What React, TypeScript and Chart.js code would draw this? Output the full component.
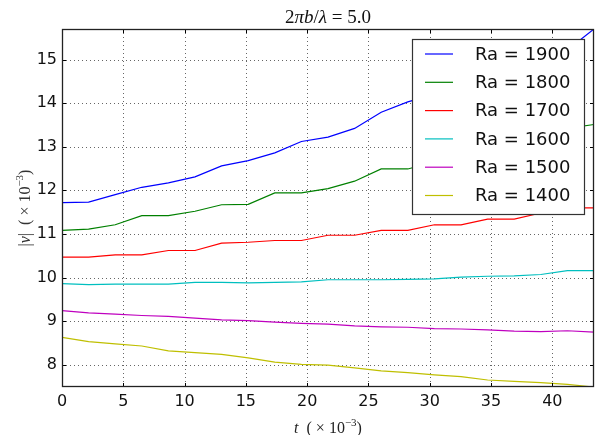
import React, { useEffect, useRef } from 'react';
import { Chart, registerables } from 'chart.js';

Chart.register(...registerables);

// time samples t (×10^-3)
const tValues = [0, 2.17, 4.34, 6.51, 8.68, 10.85, 13.02, 15.19, 17.36, 19.53, 21.7, 23.87, 26.04, 28.21, 30.38, 32.55, 34.72, 36.89, 39.06, 41.23, 43.4];

// |v| (×10^-3) per Rayleigh number
const ra1900 = [11.72, 11.73, 11.9, 12.07, 12.17, 12.31, 12.56, 12.68, 12.86, 13.12, 13.22, 13.42, 13.79, 14.03, 14.2, 14.4, 14.6, 14.8, 15.0, 15.22, 15.7];
const ra1800 = [11.08, 11.11, 11.21, 11.42, 11.42, 11.52, 11.67, 11.68, 11.94, 11.94, 12.04, 12.21, 12.49, 12.49, 12.65, 12.8, 12.95, 13.1, 13.25, 13.42, 13.51];
const ra1700 = [10.47, 10.47, 10.52, 10.52, 10.62, 10.62, 10.79, 10.81, 10.85, 10.85, 10.97, 10.97, 11.08, 11.08, 11.21, 11.21, 11.34, 11.34, 11.48, 11.6, 11.6];
const ra1600 = [9.86, 9.84, 9.85, 9.85, 9.85, 9.89, 9.89, 9.88, 9.89, 9.9, 9.95, 9.95, 9.95, 9.96, 9.97, 10.01, 10.03, 10.04, 10.07, 10.16, 10.16];
const ra1500 = [9.24, 9.19, 9.16, 9.13, 9.11, 9.07, 9.03, 9.01, 8.98, 8.95, 8.93, 8.89, 8.87, 8.86, 8.83, 8.82, 8.8, 8.77, 8.76, 8.78, 8.75];
const ra1400 = [8.63, 8.53, 8.48, 8.43, 8.32, 8.28, 8.24, 8.16, 8.06, 8.01, 7.99, 7.93, 7.86, 7.82, 7.77, 7.73, 7.65, 7.62, 7.59, 7.55, 7.49];

const seriesValues = [ra1900, ra1800, ra1700, ra1600, ra1500, ra1400];
const seriesLabels = ['Ra = 1900', 'Ra = 1800', 'Ra = 1700', 'Ra = 1600', 'Ra = 1500', 'Ra = 1400'];
const seriesColors = ['#0000ff', '#008000', '#ff0000', '#00bfbf', '#bf00bf', '#bfbf00'];

const xTicks = [0, 5, 10, 15, 20, 25, 30, 35, 40];
const yTicks = [8, 9, 10, 11, 12, 13, 14, 15];
const xRange = [0, 43.4];
const yRange = [7.49, 15.7];

type Run = { t: string; italic?: boolean; sup?: boolean };

const titleRuns: Run[] = [
  { t: '2' }, { t: 'π', italic: true }, { t: 'b', italic: true }, { t: '/' },
  { t: 'λ', italic: true }, { t: ' = ' }, { t: '5.0' },
];
const yLabelRuns: Run[] = [
  { t: '|' }, { t: 'v', italic: true }, { t: '|  ( × 10' }, { t: '−3', sup: true }, { t: ')' },
];
const xLabelRuns: Run[] = [
  { t: 't', italic: true }, { t: '  ( × 10' }, { t: '−3', sup: true }, { t: ')' },
];

const MATH_FONT = '"Liberation Serif", "DejaVu Serif", serif';
const SANS_FONT = '"DejaVu Sans", sans-serif';

function drawRuns(ctx: CanvasRenderingContext2D, runs: Run[], cx: number, cy: number, size: number, rotate: boolean, color: string) {
  ctx.save();
  ctx.translate(cx, cy);
  if (rotate) ctx.rotate(-Math.PI / 2);
  const fontFor = (r: Run) => `${r.italic ? 'italic ' : ''}${r.sup ? Math.round(size * 0.7) : size}px ${MATH_FONT}`;
  const widths = runs.map((r) => {
    ctx.font = fontFor(r);
    return ctx.measureText(r.t).width;
  });
  const total = widths.reduce((a, b) => a + b, 0);
  let x = -total / 2;
  const base = size * 0.35;
  ctx.fillStyle = color;
  ctx.textBaseline = 'alphabetic';
  ctx.textAlign = 'left';
  runs.forEach((r, i) => {
    ctx.font = fontFor(r);
    ctx.fillText(r.t, x, r.sup ? base - size * 0.42 : base);
    x += widths[i];
  });
  ctx.restore();
}

const decorPlugin = {
  id: 'decor',
  beforeDatasetsDraw(chart: any) {
    const { ctx, chartArea, scales } = chart;
    const { left, right, top, bottom } = chartArea;
    const xs = scales.x;
    const ys = scales.y;
    ctx.save();
    ctx.strokeStyle = 'rgba(0,0,0,0.6)';
    ctx.lineWidth = 1;
    ctx.setLineDash([1, 3]);
    xTicks.forEach((v) => {
      if (v === xRange[0]) return;
      const px = Math.round(xs.getPixelForValue(v)) + 0.5;
      ctx.beginPath();
      ctx.moveTo(px, top);
      ctx.lineTo(px, bottom);
      ctx.stroke();
    });
    yTicks.forEach((v) => {
      const py = Math.round(ys.getPixelForValue(v)) + 0.5;
      ctx.beginPath();
      ctx.moveTo(left, py);
      ctx.lineTo(right, py);
      ctx.stroke();
    });
    ctx.restore();
  },
  afterDatasetsDraw(chart: any) {
    const { ctx, chartArea, scales } = chart;
    const { left, right, top, bottom } = chartArea;
    const xs = scales.x;
    const ys = scales.y;
    ctx.save();
    // inward tick marks on all sides
    ctx.strokeStyle = '#000';
    ctx.lineWidth = 1;
    const tl = 4;
    xTicks.forEach((v) => {
      const px = Math.round(xs.getPixelForValue(v)) + 0.5;
      ctx.beginPath();
      ctx.moveTo(px, bottom);
      ctx.lineTo(px, bottom - tl);
      ctx.moveTo(px, top);
      ctx.lineTo(px, top + tl);
      ctx.stroke();
    });
    yTicks.forEach((v) => {
      const py = Math.round(ys.getPixelForValue(v)) + 0.5;
      ctx.beginPath();
      ctx.moveTo(left, py);
      ctx.lineTo(left + tl, py);
      ctx.moveTo(right, py);
      ctx.lineTo(right - tl, py);
      ctx.stroke();
    });
    // frame
    ctx.strokeStyle = '#222';
    ctx.lineWidth = 1.3;
    ctx.strokeRect(Math.round(left) + 0.5, Math.round(top) + 0.5, Math.round(right - left) - 1, Math.round(bottom - top) - 1);

    // legend
    const lx = 412, ly = 39, lw = 172, lh = 175;
    ctx.fillStyle = '#fff';
    ctx.fillRect(lx, ly, lw, lh);
    ctx.strokeStyle = '#333';
    ctx.lineWidth = 1.2;
    ctx.strokeRect(lx + 0.5, ly + 0.5, lw, lh);
    ctx.font = `18px ${SANS_FONT}`;
    ctx.textBaseline = 'middle';
    ctx.textAlign = 'left';
    seriesLabels.forEach((label, i) => {
      const rowY = 54 + i * 28.3;
      ctx.strokeStyle = seriesColors[i];
      ctx.lineWidth = 1.2;
      ctx.beginPath();
      ctx.moveTo(425, rowY);
      ctx.lineTo(453, rowY);
      ctx.stroke();
      ctx.fillStyle = '#111';
      ctx.fillText(label, 475, rowY + 1);
    });
    ctx.restore();

    // title and axis labels
    const cx = (left + right) / 2;
    drawRuns(ctx, titleRuns, cx, 16, 19, false, '#111');
    drawRuns(ctx, xLabelRuns, cx, 427, 16, false, '#222');
    drawRuns(ctx, yLabelRuns, 24, (top + bottom) / 2, 16, true, '#333');
  },
};

export default function App() {
  const canvasRef = useRef<HTMLCanvasElement | null>(null);

  useEffect(() => {
    if (!canvasRef.current) return;
    const datasets = seriesValues.map((vals, i) => ({
      label: seriesLabels[i],
      data: tValues.map((t, j) => ({ x: t, y: vals[j] })),
      borderColor: seriesColors[i],
      backgroundColor: seriesColors[i],
      borderWidth: 1.2,
      pointRadius: 0,
      tension: 0,
      fill: false,
    }));
    const chart = new Chart(canvasRef.current, {
      type: 'line',
      data: { datasets },
      options: {
        animation: false,
        responsive: false,
        maintainAspectRatio: false,
        layout: { padding: { top: 29, right: 11, left: 0, bottom: 0 } },
        plugins: {
          legend: { display: false },
          tooltip: { enabled: false },
          title: { display: false },
        },
        scales: {
          x: {
            type: 'linear',
            min: xRange[0],
            max: xRange[1],
            grid: { display: false, drawTicks: false },
            border: { display: false },
            afterBuildTicks: (s: any) => {
              s.ticks = xTicks.map((v) => ({ value: v }));
            },
            afterFit: (s: any) => {
              s.height = 48;
            },
            ticks: {
              padding: 5,
              color: '#111',
              maxRotation: 0,
              autoSkip: false,
              font: { family: SANS_FONT, size: 16 },
            },
          },
          y: {
            type: 'linear',
            min: yRange[0],
            max: yRange[1],
            grid: { display: false, drawTicks: false },
            border: { display: false },
            afterBuildTicks: (s: any) => {
              s.ticks = yTicks.map((v) => ({ value: v }));
            },
            afterFit: (s: any) => {
              s.width = 62;
            },
            ticks: {
              padding: 5,
              color: '#111',
              autoSkip: false,
              font: { family: SANS_FONT, size: 16 },
            },
          },
        },
      },
      plugins: [decorPlugin],
    } as any);
    return () => chart.destroy();
  }, []);

  return (
    <div style={{ position: 'fixed', left: 0, top: 0, width: 605, height: 435, background: '#fff' }}>
      <canvas ref={canvasRef} width={605} height={435} style={{ width: 605, height: 435, display: 'block' }} />
    </div>
  );
}
